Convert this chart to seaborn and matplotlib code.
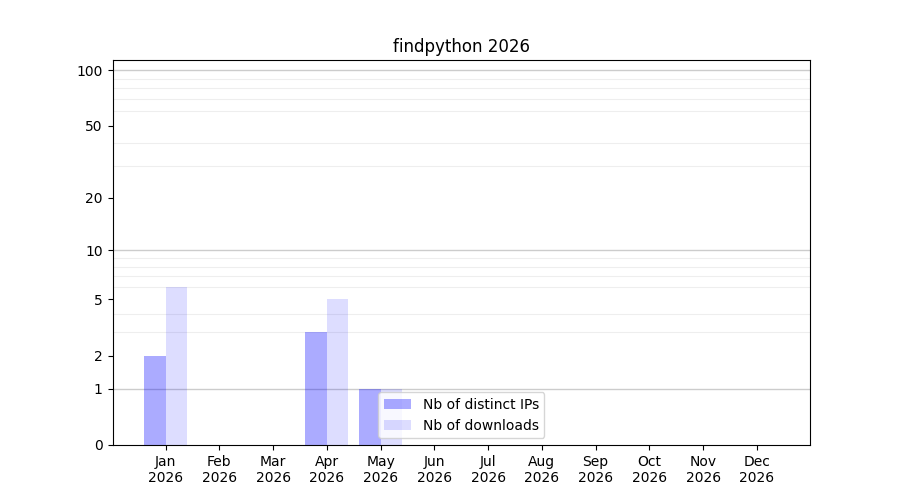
import numpy as np
import pandas as pd
import matplotlib
matplotlib.use("Agg")
import matplotlib.pyplot as plt
import matplotlib.ticker as mticker
import seaborn as sns

months = ["Jan", "Feb", "Mar", "Apr", "May", "Jun", "Jul", "Aug", "Sep", "Oct", "Nov", "Dec"]
year = "2026"
distinct_ips = [2, 0, 0, 3, 1, 0, 0, 0, 0, 0, 0, 0]
downloads = [6, 0, 0, 5, 1, 0, 0, 0, 0, 0, 0, 0]
series_names = ["Nb of distinct IPs", "Nb of downloads"]
ytick_values = [0, 1, 2, 5, 10, 20, 50, 100]

labels = [f"{m}\n{year}" for m in months]
df = pd.DataFrame({
    "month": labels * 2,
    "value": distinct_ips + downloads,
    "series": [series_names[0]] * 12 + [series_names[1]] * 12,
})

fig, ax = plt.subplots(figsize=(9, 5), dpi=100)
sns.barplot(data=df, x="month", y="value", hue="series", order=labels,
            palette=["#0000ff", "#0000ff"], saturation=1, linewidth=0,
            width=0.8, ax=ax, zorder=2, legend=False)
for container, alpha in zip(ax.containers, [0.33, 0.135]):
    for bar in container:
        bar.set_alpha(alpha)

f = lambda v: np.log10(np.maximum(v, 0) + 1)
finv = lambda v: 10 ** v - 1
ax.set_yscale("function", functions=(f, finv))
ax.set_ylim(0, 113.5)
ax.set_xlim(-0.99, 11.99)
ax.yaxis.set_major_locator(mticker.FixedLocator(ytick_values))
ax.yaxis.set_major_formatter(mticker.FixedFormatter([str(v) for v in ytick_values]))
minor = [v for v in list(range(2, 10)) + list(range(20, 100, 10))]
ax.yaxis.set_minor_locator(mticker.FixedLocator(minor))
ax.tick_params(axis="y", which="minor", length=0)
ax.grid(False)
ax.grid(True, axis="y", which="minor", color="#eeeeee", linewidth=0.8, zorder=0)
for v in [1, 10, 100]:
    ax.axhline(v, color="#cccccc", linewidth=1, zorder=1)
ax.set_axisbelow(True)
ax.set_xlabel("")
ax.set_ylabel("")
ax.set_title(f"findpython {year}")
ax.legend(ax.containers[:2], series_names, loc="lower center")
fig.savefig("out.png", dpi=100)
